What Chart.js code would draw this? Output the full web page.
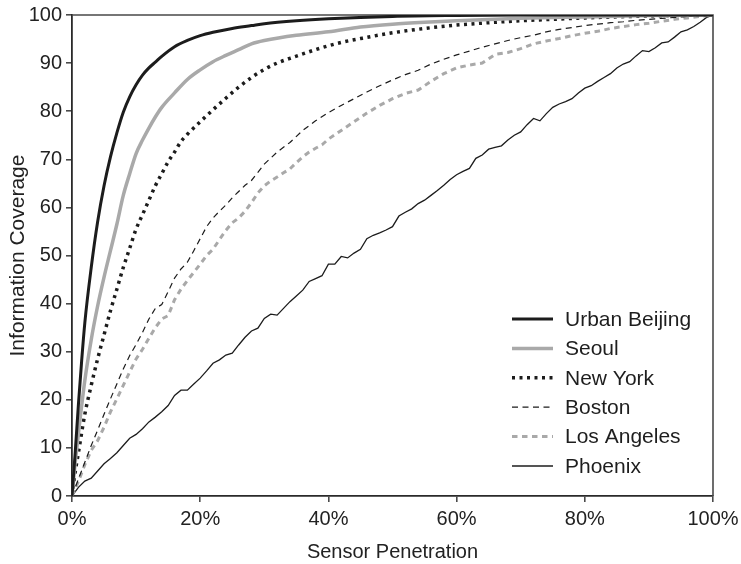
<!DOCTYPE html>
<html>
<head>
<meta charset="utf-8">
<script src="https://cdn.jsdelivr.net/npm/chart.js@4.4.0/dist/chart.umd.min.js"></script>
<style>
  html, body { margin: 0; padding: 0; background: #fff; }
  #wrap { width: 741px; height: 564px; }
</style>
</head>
<body>
<div id="wrap"><canvas id="c" width="741" height="564"></canvas></div>
<script>
// Sensor penetration (%) and information coverage (%) for each city
const beijingX = [0,0.5,1,1.5,2,3,4,5,6,7,8,9,10,11,12,13,14,16,18,20,22,25,28,30,35,40,50,60,70,80,90,100];
const beijingY = [0,9,19,28,36,47.5,57,64.5,70.5,75.5,79.8,83,85.5,87.5,89,90.2,91.4,93.4,94.7,95.7,96.4,97.2,97.8,98.2,98.8,99.2,99.7,99.9,100,100,100,100];

const seoulX = [0,0.5,1,2,3,4,5,6,7,8,9,10,11,12,13,14,16,18,20,22,24,26,28,30,35,40,45,50,55,60,70,80,90,100];
const seoulY = [0,7,13,24,32.5,39.5,45.5,51,56.5,62.5,67,71.2,74,76.5,78.8,80.8,83.8,86.6,88.6,90.3,91.6,92.8,94,94.7,95.8,96.5,97.5,98.1,98.5,98.8,99.3,99.6,99.9,100];

const newYorkX = [0,0.5,1,2,3,4,5,6,7,8,9,10,11,12,13,14,15,16,17,18,20,22,24,26,28,30,32,34,36,38,40,42,45,50,55,60,65,70,75,80,90,100];
const newYorkY = [0,5,9,17,23,28.5,33.5,38.5,43,47.5,51.5,55.5,58.5,61.5,64.5,67,69.5,71.5,73.7,75.2,77.8,80.3,82.7,85,87,88.7,90,91,91.9,92.8,93.6,94.3,95.1,96.3,97.2,97.9,98.4,98.8,99.1,99.4,99.8,100];

const bostonX = [0,1,2,3,4,5,6,7,8,9,10,11,12,13,14,15,16,17,18,19,20,21,22,23,24,25,26,27,28,29,30,32,34,36,38,40,42,44,46,48,50,52,54,56,58,60,62,64,66,68,70,72,74,76,78,80,82,84,86,88,90,92,94,96,98,100];
const bostonY = [0,3.5,7,10.5,13.7,17,20.2,23.3,26.4,29.2,31.5,34,36.8,39,39.8,42.5,45.3,47.2,48.6,51,53.5,56,57.8,59.2,60.5,62,63.3,64.6,65.6,67.3,69,71.5,73.5,76,78,79.7,81.2,82.6,84,85.3,86.5,87.6,88.5,89.8,90.8,91.7,92.5,93.3,94,94.7,95.3,95.8,96.5,97,97.4,97.8,98.1,98.4,98.6,98.9,99.1,99.3,99.5,99.7,99.9,100];

const losAngelesX = [0,1,2,3,4,5,6,7,8,9,10,11,12,13,14,15,16,17,18,19,20,21,22,23,24,25,26,27,28,29,30,31,32,33,34,35,36,37,38,39,40,42,44,46,48,50,52,54,56,58,60,62,64,66,68,70,72,74,76,78,80,82,84,86,88,90,92,94,96,98,100];
const losAngelesY = [0,3,6.5,9.5,11.5,14.3,17.5,20.2,23,25.8,28.5,30.5,32.8,35,36.8,37.5,40.8,43,44.8,46.5,48.2,50,51.3,53.3,55.2,56.8,57.8,59.2,61,63,64.5,65.5,66.3,67.2,68,69.3,70.5,71.5,72.3,73,74.2,76,77.8,79.6,81.2,82.6,83.7,84.4,86.2,87.8,89,89.6,90,91.8,92.2,93,94,94.6,95.1,95.7,96.2,96.6,97.2,97.6,98,98.3,98.7,99.1,99.4,99.7,100];

const phoenixX = [0,1,2,3,4,5,6,7,8,9,10,11,12,13,14,15,16,17,18,19,20,21,22,23,24,25,26,27,28,29,30,31,32,33,34,35,36,37,38,39,40,41,42,43,44,45,46,47,48,49,50,51,52,53,54,55,56,57,58,59,60,61,62,63,64,65,66,67,68,69,70,71,72,73,74,75,76,77,78,79,80,81,82,83,84,85,86,87,88,89,90,91,92,93,94,95,96,97,98,99,100];
const phoenixY = [0,1.8,3.1,3.7,5.2,6.7,7.8,9,10.5,12,12.8,14,15.4,16.4,17.5,18.8,20.9,22,22,23.3,24.5,26,27.6,28.3,29.3,29.7,31.4,33,34.3,34.9,36.9,37.8,37.6,39,40.4,41.6,42.8,44.6,45.2,45.8,48.2,48.2,49.8,49.5,50.5,51.3,53.5,54.2,54.7,55.3,56,58.2,59,59.7,60.8,61.5,62.5,63.5,64.6,65.8,66.8,67.5,68.1,70.2,70.9,72.1,72.5,72.8,74,75,75.7,77.2,78.5,78,79.5,80.8,81.5,82,82.6,83.8,84.8,85.3,86.2,87,87.8,89,89.8,90.3,91.5,92.6,92.4,93.2,94.2,94.4,95.4,96.5,96.9,97.6,98.5,99.5,100];

const xTicks = [0,20,40,60,80,100];
const cityNames = ['Urban Beijing','Seoul','New York','Boston','Los Angeles','Phoenix'];

const pts = (xs, ys) => xs.map((x, i) => ({ x: x, y: ys[i] }));

const BLACK = '#1c1c1c';
const GRAY = '#a9a9a9';
const FONT = '"Liberation Sans", Arial, Helvetica, sans-serif';

const datasets = [
  { label: cityNames[0], data: pts(beijingX, beijingY), borderColor: BLACK, borderWidth: 3, cubicInterpolationMode: 'monotone' },
  { label: cityNames[1], data: pts(seoulX, seoulY), borderColor: GRAY, borderWidth: 3.5, cubicInterpolationMode: 'monotone' },
  { label: cityNames[2], data: pts(newYorkX, newYorkY), borderColor: BLACK, borderWidth: 3.5, borderDash: [3, 4.5], cubicInterpolationMode: 'monotone' },
  { label: cityNames[3], data: pts(bostonX, bostonY), borderColor: BLACK, borderWidth: 1.2, borderDash: [6, 4.5] },
  { label: cityNames[4], data: pts(losAngelesX, losAngelesY), borderColor: GRAY, borderWidth: 3, borderDash: [5.5, 4.5] },
  { label: cityNames[5], data: pts(phoenixX, phoenixY), borderColor: BLACK, borderWidth: 1.3 }
].map(d => Object.assign({ pointRadius: 0, fill: false, tension: 0 }, d));

// Frame around the plot area (top and right edges)
const framePlugin = {
  id: 'frame',
  beforeDatasetsDraw(chart) {
    const { ctx, chartArea: a } = chart;
    ctx.save();
    ctx.strokeStyle = '#4a4a4a';
    ctx.lineWidth = 1.6;
    ctx.beginPath();
    ctx.moveTo(a.left, a.top);
    ctx.lineTo(a.right, a.top);
    ctx.lineTo(a.right, a.bottom);
    ctx.stroke();
    ctx.restore();
  }
};

// Legend drawn inside the lower-right of the plot area
const insideLegend = {
  id: 'insideLegend',
  afterDraw(chart) {
    const { ctx, chartArea: a } = chart;
    const x0 = a.right - 201, x1 = a.right - 160, tx = a.right - 148;
    const y0 = a.bottom - 177, step = 29.4;
    ctx.save();
    ctx.font = '21px ' + FONT;
    ctx.textBaseline = 'middle';
    chart.data.datasets.forEach((ds, i) => {
      const y = y0 + i * step;
      ctx.strokeStyle = ds.borderColor;
      ctx.lineWidth = ds.borderWidth;
      ctx.setLineDash(ds.borderDash || []);
      ctx.beginPath();
      ctx.moveTo(x0, y);
      ctx.lineTo(x1, y);
      ctx.stroke();
      ctx.setLineDash([]);
      ctx.fillStyle = '#1e1e1e';
      ctx.fillText(ds.label, tx, y + 1);
    });
    ctx.restore();
  }
};

new Chart(document.getElementById('c'), {
  type: 'line',
  data: { datasets },
  options: {
    responsive: false,
    animation: false,
    layout: { padding: { top: 15, right: 28, left: 0, bottom: 0 } },
    plugins: { legend: { display: false }, tooltip: { enabled: false } },
    scales: {
      x: {
        type: 'linear', min: 0, max: 100,
        afterBuildTicks: s => { s.ticks = xTicks.map(v => ({ value: v })); },
        afterFit: s => { s.height = 68; s.paddingLeft = 0; s.paddingRight = 0; },
        grid: { drawOnChartArea: false, drawTicks: true, tickLength: 6, color: '#4a4a4a', lineWidth: 1.6 },
        border: { color: '#2a2a2a', width: 1.8 },
        ticks: { callback: v => v + '%', color: '#222', padding: 5, maxRotation: 0, font: { family: FONT, size: 20 } },
        title: { display: true, text: 'Sensor Penetration', color: '#222', font: { family: FONT, size: 20 }, padding: { top: 4, bottom: 0 } }
      },
      y: {
        min: 0, max: 100,
        ticks: { stepSize: 10, color: '#222', padding: 4, font: { family: FONT, size: 20 } },
        afterFit: s => { s.width = 72; s.paddingTop = 0; s.paddingBottom = 0; },
        grid: { drawOnChartArea: false, drawTicks: true, tickLength: 6, color: '#4a4a4a', lineWidth: 1.6 },
        border: { color: '#2a2a2a', width: 1.8 },
        title: { display: true, text: 'Information Coverage', color: '#222', font: { family: FONT, size: 21 }, padding: { top: 6, bottom: 4 } }
      }
    }
  },
  plugins: [framePlugin, insideLegend]
});
</script>
</body>
</html>
